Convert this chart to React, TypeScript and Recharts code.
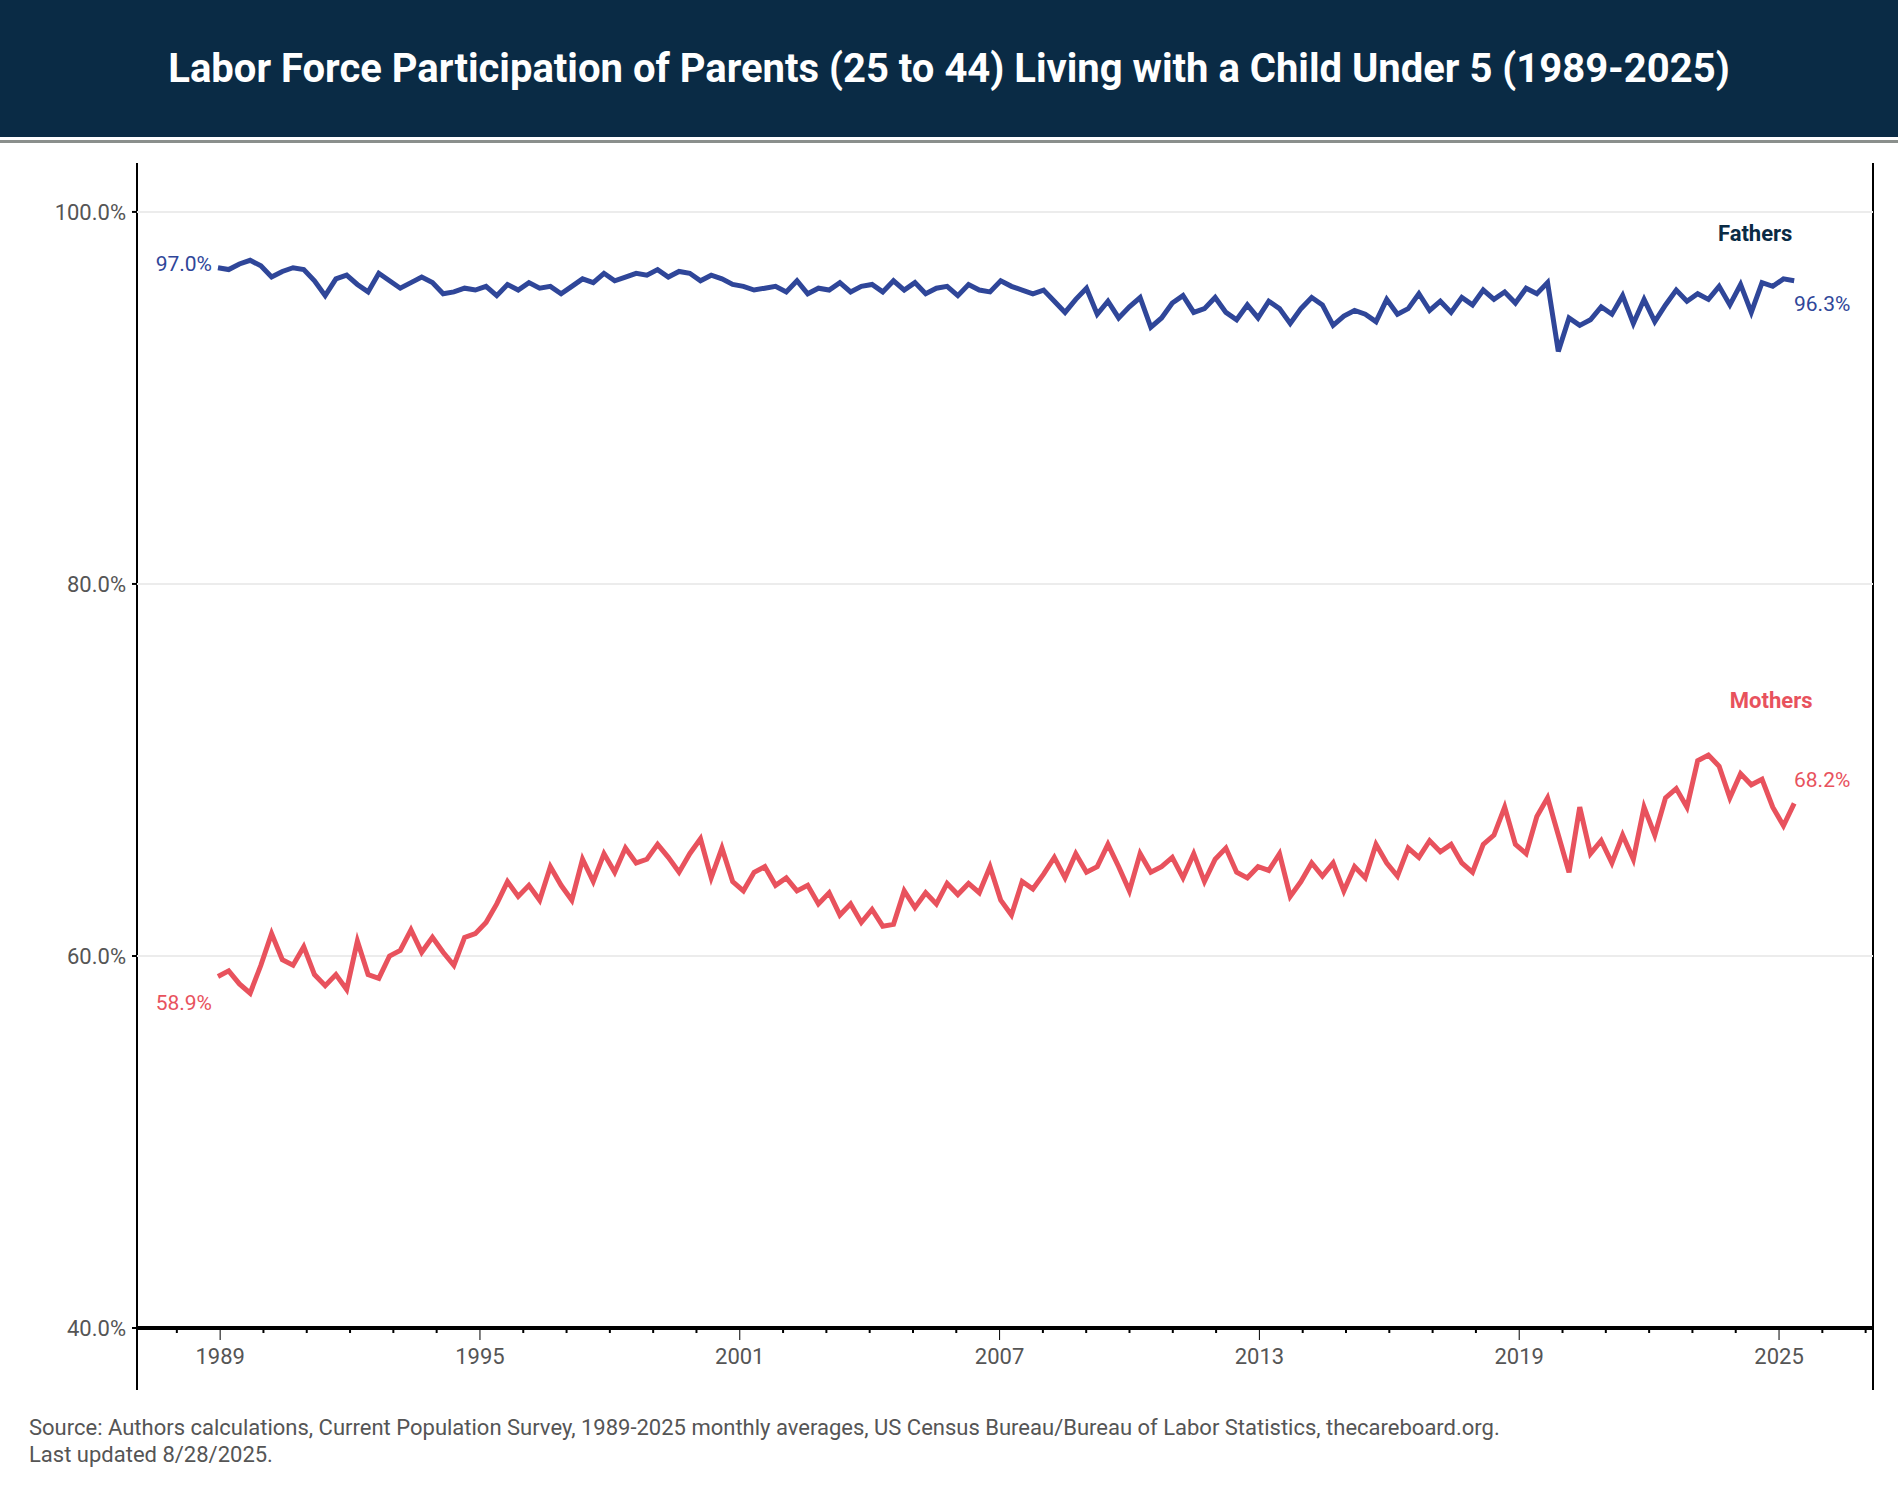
import React from 'react';
import { LineChart, Line, XAxis, YAxis, CartesianGrid } from 'recharts';

const fathers = [
  97.0, 96.9, 97.2, 97.4, 97.1, 96.5, 96.8, 97.0, 96.9, 96.3, 95.5, 96.4,
  96.6, 96.1, 95.7, 96.7, 96.3, 95.9, 96.2, 96.5, 96.2, 95.6, 95.7, 95.9,
  95.8, 96.0, 95.5, 96.1, 95.8, 96.2, 95.9, 96.0, 95.6, 96.0, 96.4, 96.2,
  96.7, 96.3, 96.5, 96.7, 96.6, 96.9, 96.5, 96.8, 96.7, 96.3, 96.6, 96.4,
  96.1, 96.0, 95.8, 95.9, 96.0, 95.7, 96.3, 95.6, 95.9, 95.8, 96.2, 95.7,
  96.0, 96.1, 95.7, 96.3, 95.8, 96.2, 95.6, 95.9, 96.0, 95.5, 96.1, 95.8,
  95.7, 96.3, 96.0, 95.8, 95.6, 95.8, 95.2, 94.6, 95.3, 95.9, 94.5, 95.2,
  94.3, 94.9, 95.4, 93.8, 94.3, 95.1, 95.5, 94.6, 94.8, 95.4, 94.6, 94.2,
  95.0, 94.3, 95.2, 94.8, 94.0, 94.8, 95.4, 95.0, 93.9, 94.4, 94.7, 94.5,
  94.1, 95.3, 94.5, 94.8, 95.6, 94.7, 95.2, 94.6, 95.4, 95.0, 95.8, 95.3,
  95.7, 95.1, 95.9, 95.6, 96.2, 92.5, 94.3, 93.9, 94.2, 94.9, 94.5, 95.5,
  94.0, 95.3, 94.1, 95.0, 95.8, 95.2, 95.6, 95.3, 96.0, 95.0, 96.1, 94.6,
  96.2, 96.0, 96.4, 96.3,
];

const mothers = [
  58.9, 59.2, 58.5, 58.0, 59.5, 61.2, 59.8, 59.5, 60.5, 59.0, 58.4, 59.0,
  58.2, 60.8, 59.0, 58.8, 60.0, 60.3, 61.4, 60.2, 61.0, 60.2, 59.5, 61.0,
  61.2, 61.8, 62.8, 64.0, 63.2, 63.8, 63.0, 64.8, 63.8, 63.0, 65.2, 64.0,
  65.5, 64.5, 65.8, 65.0, 65.2, 66.0, 65.3, 64.5, 65.5, 66.3, 64.2, 65.8,
  64.0, 63.5, 64.5, 64.8, 63.8, 64.2, 63.5, 63.8, 62.8, 63.4, 62.2, 62.8,
  61.8, 62.5, 61.6, 61.7, 63.5, 62.6, 63.4, 62.8, 63.9, 63.3, 63.9, 63.4,
  64.8, 63.0, 62.2, 64.0, 63.6, 64.4, 65.3, 64.2, 65.5, 64.5, 64.8, 66.0,
  64.8, 63.5, 65.5, 64.5, 64.8, 65.3, 64.2, 65.5, 64.0, 65.2, 65.8, 64.5,
  64.2, 64.8, 64.6, 65.5, 63.2, 64.0, 65.0, 64.3, 65.0, 63.5, 64.8, 64.2,
  66.0, 65.0, 64.3, 65.8, 65.3, 66.2, 65.6, 66.0, 65.0, 64.5, 66.0, 66.5,
  68.0, 66.0, 65.5, 67.5, 68.5, 66.5, 64.5, 68.0, 65.5, 66.2, 65.0, 66.5,
  65.2, 68.0, 66.5, 68.5, 69.0, 68.0, 70.5, 70.8, 70.2, 68.5, 69.8, 69.2,
  69.5, 68.0, 67.0, 68.2,
];

const startYear = 1988.95;
const endYear = 2025.35;
const majorTicks = [1989, 1995, 2001, 2007, 2013, 2019, 2025];
const allYears = Array.from({ length: 40 }, (_, i) => 1988 + i);
const yTicks = [40, 60, 80, 100];

const data = fathers.map((f, i) => ({
  t: startYear + (i * (endYear - startYear)) / (fathers.length - 1),
  fathers: f,
  mothers: mothers[i],
}));

const BLUE = '#2f4699';
const RED = '#e8525d';
const NAVY = '#0a2b45';
const last = data.length - 1;

const YearTick = (props: any) => {
  const { x, y, payload } = props;
  const major = majorTicks.includes(payload.value);
  return (
    <g>
      <line x1={x} x2={x} y1={y} y2={y + (major ? 12 : 5)} stroke="#000" strokeWidth={major ? 1 : 2} />
      {major && (
        <text x={x} y={y + 36} textAnchor="middle" fill="#555" fontSize={22}>
          {payload.value}
        </text>
      )}
    </g>
  );
};

const makeLabel = (color: string, name: string, side: 'above' | 'below') => (props: any) => {
  const { x, y, index, value } = props;
  if (index === 0) {
    const dy = side === 'above' ? 3 : 34;
    return (
      <text x={x - 6} y={y + dy} textAnchor="end" fill={color} fontSize={21}>
        {value.toFixed(1)}%
      </text>
    );
  }
  if (index === last) {
    const dy = side === 'above' ? 30 : -16;
    const ny = side === 'above' ? -40 : -95;
    const nx = side === 'above' ? -39 : -23;
    return (
      <g>
        <text x={x + 28} y={y + dy} textAnchor="middle" fill={color} fontSize={21}>
          {value.toFixed(1)}%
        </text>
        <text x={x + nx} y={y + ny} textAnchor="middle" fill={side === 'above' ? NAVY : color} fontSize={22} fontWeight="bold">
          {name}
        </text>
      </g>
    );
  }
  return null;
};

export default function App() {
  return (
    <div style={{ position: 'relative', width: 1898, height: 1498, background: '#fff', fontFamily: 'Roboto, sans-serif' }}>
      <style>{'body{margin:0}'}</style>
      <div
        style={{
          position: 'absolute', left: 0, top: 0, width: 1898, height: 137, background: NAVY,
          color: '#fff', fontSize: 40, fontWeight: 'bold', display: 'flex', alignItems: 'center', justifyContent: 'center',
        }}
      >
        Labor Force Participation of Parents (25 to 44) Living with a Child Under 5 (1989-2025)
      </div>
      <div style={{ position: 'absolute', left: 0, top: 140, width: 1898, height: 3, background: '#8a8f8c' }} />
      <div style={{ position: 'absolute', left: 136, top: 163, width: 2, height: 1227, background: '#000' }} />
      <div style={{ position: 'absolute', left: 1872, top: 163, width: 2, height: 1227, background: '#000' }} />
      <div style={{ position: 'absolute', left: 0, top: 150 }}>
        <LineChart width={1898} height={1260} data={data} margin={{ top: 13, right: 25, bottom: 0, left: 57 }}>
          <CartesianGrid horizontal vertical={false} stroke="#ececec" strokeWidth={2} horizontalValues={[60, 80, 100]} />
          <XAxis
            dataKey="t"
            type="number"
            domain={[1987.08, 2027.17]}
            ticks={allYears}
            interval={0}
            allowDataOverflow
            axisLine={{ stroke: '#000', strokeWidth: 4 }}
            tickLine={false}
            tickSize={0}
            tickMargin={0}
            tick={YearTick}
            height={82}
          />
          <YAxis
            type="number"
            domain={[40, 102.63]}
            ticks={yTicks}
            allowDataOverflow
            axisLine={false}
            tickLine={{ stroke: '#000', strokeWidth: 2 }}
            tickSize={5}
            tickMargin={6}
            tickFormatter={(v: number) => `${v.toFixed(1)}%`}
            tick={{ fill: '#555', fontSize: 22 }}
            width={80}
          />
          <Line dataKey="fathers" stroke={BLUE} strokeWidth={5} dot={false} isAnimationActive={false} label={makeLabel(BLUE, 'Fathers', 'above')} />
          <Line dataKey="mothers" stroke={RED} strokeWidth={5} dot={false} isAnimationActive={false} label={makeLabel(RED, 'Mothers', 'below')} />
        </LineChart>
      </div>
      <div style={{ position: 'absolute', left: 29, top: 1414, color: '#555', fontSize: 22, lineHeight: '27px' }}>
        Source: Authors calculations, Current Population Survey, 1989-2025 monthly averages, US Census Bureau/Bureau of Labor Statistics, thecareboard.org.
        <br />
        Last updated 8/28/2025.
      </div>
    </div>
  );
}
